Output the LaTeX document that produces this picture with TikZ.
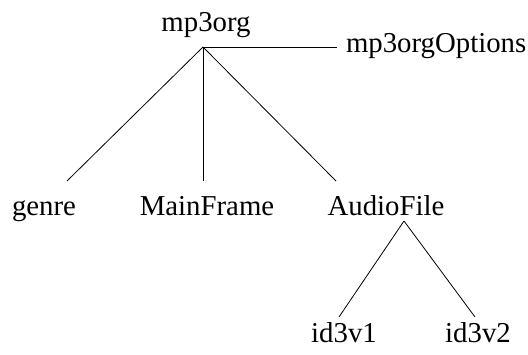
\documentclass[tikz,border=0pt]{standalone}
\usepackage{fontspec}
\setmainfont{Liberation Serif}
\begin{document}
\begin{tikzpicture}[x=1pt,y=-1pt,
  lbl/.style={inner sep=0pt,outer sep=0pt,anchor=base,font=\fontsize{28.8}{30}\selectfont},
  edge/.style={line width=0.8pt,black}]
\useasboundingbox (0,0) rectangle (528,354);
% labels
\node[lbl] (mp3org) at (206,31) {mp3org};
\node[lbl,anchor=base west] (opts) at (346,52) {mp3orgOptions};
\node[lbl] (genre) at (44,215) {genre};
\node[lbl] (main) at (207,215) {MainFrame};
\node[lbl] (audio) at (386,215) {AudioFile};
\node[lbl] (v1) at (344,342) {id3v1};
\node[lbl] (v2) at (478,342) {id3v2};
% connector points
\coordinate (j1) at (203,47);
\coordinate (eopts) at (337,47);
\coordinate (egenre) at (67,181);
\coordinate (emain) at (203,181);
\coordinate (eaudio) at (336,181);
\coordinate (j2) at (404,221);
\coordinate (ev1) at (339,317);
\coordinate (ev2) at (475,317);
% connectors
\draw[edge] (j1) -- (eopts);
\draw[edge] (j1) -- (egenre);
\draw[edge] (j1) -- (emain);
\draw[edge] (j1) -- (eaudio);
\draw[edge] (j2) -- (ev1);
\draw[edge] (j2) -- (ev2);
\end{tikzpicture}
\end{document}
